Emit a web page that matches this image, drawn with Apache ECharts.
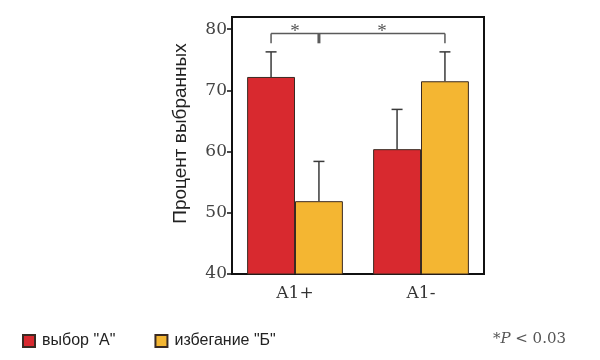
<!DOCTYPE html>
<html>
<head>
<meta charset="utf-8">
<script src="https://cdn.jsdelivr.net/npm/echarts@6/dist/echarts.min.js"></script>
<style>
html,body{margin:0;padding:0;background:#fff;}
#chart{width:600px;height:360px;}
</style>
</head>
<body>
<div id="chart"></div>
<script>
// ---- data ----
var categories = ['A1+', 'A1-'];
var seriesNames = ['выбор "А"', 'избегание "Б"'];
var choiceA = [72.2, 60.4];
var avoidB = [51.9, 71.5];
var errA = [4.1, 6.5];
var errB = [6.5, 4.8];
var yTicks = [40, 50, 60, 70, 80];
var bracketLevel = 79.3;
var bracketDrop = 77.7;

var BAR_FRAC = 0.38;
var chart = echarts.init(document.getElementById('chart'), null, {renderer: 'canvas'});

function barCenter(api, cat, val, side) {
  var c = api.coord([cat, val]);
  var w = api.size([1, 0])[0] * BAR_FRAC;
  return [c[0] + side * w / 2, c[1]];
}

function errSeries(vals, errs, side) {
  return {
    type: 'custom',
    silent: true,
    z: 5,
    data: vals.map(function (v, i) { return [i, v, v + errs[i]]; }),
    renderItem: function (params, api) {
      var cat = api.value(0);
      var p0 = barCenter(api, cat, api.value(1), side);
      var p1 = barCenter(api, cat, api.value(2), side);
      var cap = 5.5;
      var st = {stroke: '#3a3a3a', lineWidth: 1.5};
      return {
        type: 'group',
        children: [
          {type: 'line', shape: {x1: p0[0], y1: p0[1], x2: p1[0], y2: p1[1]}, style: st},
          {type: 'line', shape: {x1: p1[0] - cap, y1: p1[1], x2: p1[0] + cap, y2: p1[1]}, style: st}
        ]
      };
    }
  };
}

var option = {
  backgroundColor: '#fff',
  animation: false,
  grid: {left: 232, right: 116, top: 17, bottom: 86, show: true, borderColor: '#111', borderWidth: 2, backgroundColor: 'transparent'},
  xAxis: {
    type: 'category',
    data: categories,
    axisLine: {lineStyle: {color: '#111', width: 2}},
    axisTick: {show: false},
    axisLabel: {fontFamily: 'DejaVu Serif', fontSize: 17, color: '#333', margin: 11}
  },
  yAxis: {
    type: 'value',
    min: 40, max: 82,
    name: 'Процент выбранных',
    nameLocation: 'middle',
    nameGap: 42,
    nameTextStyle: {fontFamily: 'Liberation Sans', fontSize: 19, color: '#222', padding: [0, 0, 0, 24]},
    axisLine: {show: true, lineStyle: {color: '#111', width: 2}},
    axisTick: {show: true, length: 5, customValues: yTicks, lineStyle: {color: '#111', width: 1.5}},
    axisLabel: {customValues: yTicks, fontFamily: 'DejaVu Serif', fontSize: 17, color: '#444', margin: 5},
    splitLine: {show: false}
  },
  legend: {
    left: 22, top: 333,
    padding: 0,
    icon: 'rect',
    itemWidth: 12, itemHeight: 12,
    itemGap: 39,
    textStyle: {fontFamily: 'Liberation Sans', fontSize: 16, color: '#222', padding: [0, 0, 0, 2]},
    data: seriesNames.map(function (n) { return {name: n}; })
  },
  title: {
    text: '{a|*}{b|P}{a| < 0.03}',
    right: 34, top: 332,
    padding: 0,
    textStyle: {
      fontWeight: 'normal',
      rich: {
        a: {fontFamily: 'DejaVu Serif', fontSize: 15, fontWeight: 'normal', color: '#555'},
        b: {fontFamily: 'DejaVu Serif', fontSize: 15, fontWeight: 'normal', fontStyle: 'italic', color: '#555'}
      }
    }
  },
  series: [
    {
      name: seriesNames[0], type: 'bar', data: choiceA,
      barWidth: (BAR_FRAC * 100) + '%', barGap: '0%',
      itemStyle: {color: '#d8292f', borderColor: '#3a2a22', borderWidth: 1}
    },
    {
      name: seriesNames[1], type: 'bar', data: avoidB,
      barWidth: (BAR_FRAC * 100) + '%', barGap: '0%',
      itemStyle: {color: '#f4b632', borderColor: '#3a2a22', borderWidth: 1}
    },
    errSeries(choiceA, errA, -1),
    errSeries(avoidB, errB, 1),
    {
      type: 'custom',
      silent: true,
      z: 6,
      data: [[bracketLevel, bracketDrop]],
      renderItem: function (params, api) {
        var lv = api.value(0), dr = api.value(1);
        var L = barCenter(api, 0, lv, -1), M = barCenter(api, 0, lv, 1), R = barCenter(api, 1, lv, 1);
        var yd = api.coord([0, dr])[1];
        var st = {stroke: '#5a5a5a', lineWidth: 1.5};
        var star = {fontFamily: 'Liberation Serif', fontSize: 19, fill: '#555', align: 'center', verticalAlign: 'middle'};
        return {
          type: 'group',
          children: [
            {type: 'line', shape: {x1: L[0], y1: L[1], x2: R[0], y2: R[1]}, style: st},
            {type: 'line', shape: {x1: L[0], y1: L[1], x2: L[0], y2: yd}, style: st},
            {type: 'line', shape: {x1: R[0], y1: R[1], x2: R[0], y2: yd}, style: st},
            {type: 'line', shape: {x1: M[0], y1: M[1], x2: M[0], y2: yd}, style: {stroke: '#5a5a5a', lineWidth: 3}},
            {type: 'text', x: (L[0] + M[0]) / 2, y: L[1] - 2, style: Object.assign({text: '*'}, star)},
            {type: 'text', x: (M[0] + R[0]) / 2, y: L[1] - 2, style: Object.assign({text: '*'}, star)}
          ]
        };
      }
    }
  ]
};
chart.setOption(option);
</script>
</body>
</html>
